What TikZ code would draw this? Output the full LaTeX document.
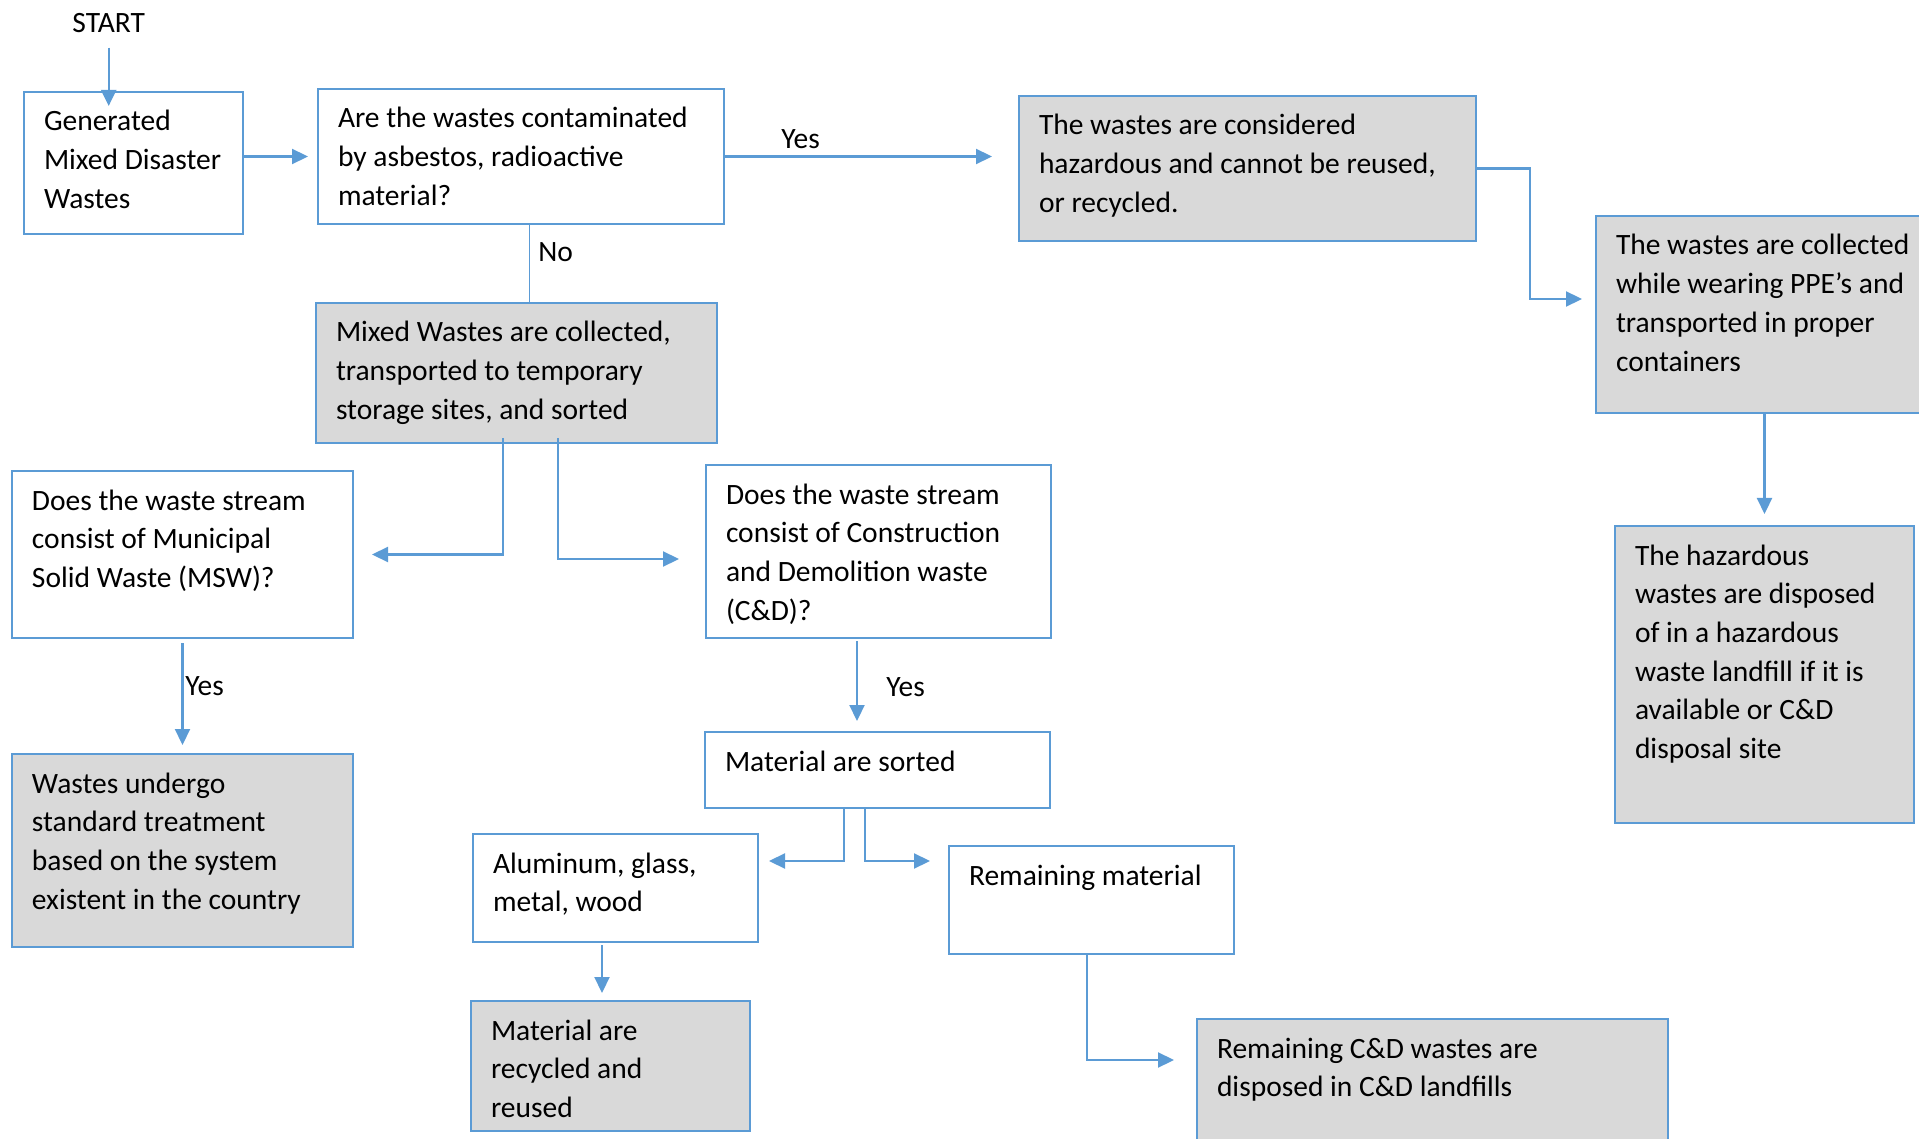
\documentclass[tikz,border=0pt]{standalone}
\usepackage{fontspec}
\setmainfont{Carlito}
\usetikzlibrary{arrows.meta,calc}
\definecolor{flowblue}{RGB}{91,155,213}
\definecolor{flowgrey}{RGB}{217,217,217}
\tikzset{
  box/.style 2 args={draw=flowblue, line width=1pt, anchor=north west, inner xsep=10pt, inner ysep=4pt,
    execute at begin node={\begin{minipage}[t][#2pt][t]{#1pt}\rule{0pt}{15.5pt}},
    execute at end node={\end{minipage}}},
  greybox/.style={fill=flowgrey},
  arr/.style={draw=flowblue, line width=1.1pt, -{Triangle[length=8pt,width=7.5pt]}},
  thinline/.style={draw=flowblue, line width=0.5pt},
  lbl/.style={inner sep=0pt, anchor=base west}
}
\begin{document}
\begin{tikzpicture}[x=0.5pt, y=-0.5pt, font=\fontsize{14.75}{19.35}\selectfont]
  \useasboundingbox (0,0) rectangle (1919,1139);
  \clip (0,0) rectangle (1919,1139);

  \node[lbl] (start) at (72,33) {START};
  \node[box={89.5}{63}] (gen) at (23,91) {Generated\\Mixed Disaster\\Wastes};
  \node[box={183}{59.5}] (q1) at (317,88) {Are the wastes contaminated\\by asbestos, radioactive\\material?};
  \node[box={208.5}{64.5}, greybox] (haz) at (1018,95) {The wastes are considered\\hazardous and cannot be reused,\\or recycled.};
  \node[box={150}{90.5}, greybox] (ppe) at (1595,215) {The wastes are collected\\while wearing PPE’s and\\transported in proper\\containers};
  \node[box={129.5}{140.5}, greybox] (land) at (1614,525) {The hazardous\\wastes are disposed\\of in a hazardous\\waste landfill if it is\\available or C\&D\\disposal site};
  \node[box={180.5}{62}, greybox] (mixed) at (315,302) {Mixed Wastes are collected,\\transported to temporary\\storage sites, and sorted};
  \node[box={150.5}{75.5}] (msw) at (11,470) {Does the waste stream\\consist of Municipal\\Solid Waste (MSW)?};
  \node[box={152.5}{78.5}] (cd) at (705,464) {Does the waste stream\\consist of Construction\\and Demolition waste\\(C\&D)?};
  \node[box={150.5}{88.5}, greybox] (treat) at (11,753) {Wastes undergo\\standard treatment\\based on the system\\existent in the country};
  \node[box={152.5}{30}] (sorted) at (704,731) {Material are sorted};
  \node[box={122.5}{46}] (alu) at (472,833) {Aluminum, glass,\\metal, wood};
  \node[box={122.5}{46}] (rem) at (948,845) {Remaining material};
  \node[box={119.5}{57}, greybox] (recyc) at (470,1000) {Material are\\recycled and\\reused};
  \node[box={215.5}{63}, greybox] (remcd) at (1196,1018) {Remaining C\&D wastes are\\disposed in C\&D landfills};

  \node[lbl] (yes1) at (781,149) {Yes};
  \node[lbl] (no) at (538,262) {No};
  \node[lbl] (yes2) at (185,695) {Yes};
  \node[lbl] (yes3) at (886,696) {Yes};

  \draw[arr, shorten <=7pt, shorten >=-7.5pt] (start.south) -- (start.south |- gen.north);
  \draw[arr, shorten >=4.5pt] (gen.east |- q1.west) -- (q1.west);
  \draw[arr, shorten >=13pt] (q1.east) -- (q1.east -| haz.west);
  \draw[arr, shorten >=6.5pt] (haz.east) -- ++(53,0) |- ($(ppe.north west)+(0,84)$);
  \draw[arr, shorten >=5.5pt] (land.north |- ppe.south) -- (land.north);
  \draw[thinline] ($(q1.south west)+(212,0)$) coordinate (nox) -- (nox |- mixed.north);
  \draw[arr, shorten >=9pt] ($(mixed.south west)+(188,-6)$) |- (msw.east);
  \draw[arr, shorten >=13pt] ($(mixed.south west)+(243,-6)$) |- ($(cd.north west)+(0,95)$);
  \draw[arr, shorten <=2pt, shorten >=4pt] (msw.south) -- (treat.north);
  \draw[arr, shorten <=1pt, shorten >=5pt] ($(cd.south west)+(152,0)$) coordinate (cdx) -- (cdx |- sorted.north);
  \draw[arr, shorten >=5pt] ($(sorted.south west)+(140,0)$) |- ($(alu.north east)+(0,28)$);
  \draw[arr, shorten >=9pt] ($(sorted.south west)+(161,0)$) |- ($(rem.north west)+(0,16)$);
  \draw[arr, shorten <=1pt, shorten >=3.5pt] ($(alu.south west)+(130,0)$) coordinate (alx) -- (alx |- recyc.north);
  \draw[arr, shorten >=11pt] ($(rem.south west)+(139,0)$) |- ($(remcd.north west)+(0,42)$);
\end{tikzpicture}
\end{document}
